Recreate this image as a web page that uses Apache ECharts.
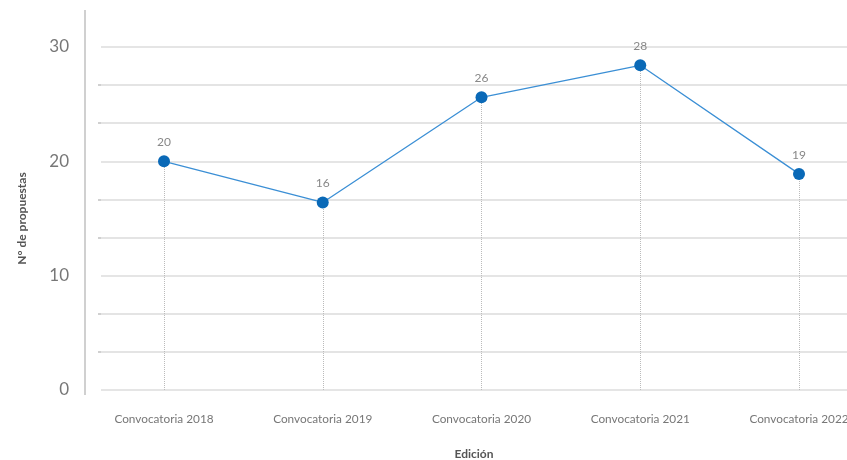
<!DOCTYPE html>
<html>
<head>
<meta charset="utf-8">
<script src="https://cdn.jsdelivr.net/npm/echarts@6/dist/echarts.min.js"></script>
<style>
html,body{margin:0;padding:0;background:#fff;overflow:hidden;}
#chart{width:847px;height:460px;}
</style>
</head>
<body>
<div id="chart"></div>
<script>
var categories = ['Convocatoria 2018', 'Convocatoria 2019', 'Convocatoria 2020', 'Convocatoria 2021', 'Convocatoria 2022'];
var propuestas = [20, 16.4, 25.6, 28.4, 18.9];
var yMin = 0, yMax = 30, yInterval = 10;
var yName = 'N° de propuestas';
var xName = 'Edición';

var FONT = 'Lato, "Open Sans", sans-serif';
var chart = echarts.init(document.getElementById('chart'), null, { width: 847, height: 460 });

var dropLines = propuestas.map(function (v, i) {
  return [{ coord: [i, yMin] }, { coord: [i, v] }];
});

var gridTop = 47, gridHeight = 343;

chart.setOption({
  animation: false,
  textStyle: { fontFamily: FONT },
  grid: [
    { left: 101, right: 0, top: gridTop, height: gridHeight, containLabel: false, outerBoundsMode: 'none' },
    { left: 164, right: 48, top: gridTop, height: gridHeight, containLabel: false, outerBoundsMode: 'none' }
  ],
  graphic: [
    { type: 'line', shape: { x1: 85, y1: 10, x2: 85, y2: 395 }, style: { stroke: '#d0d0d0', lineWidth: 2 }, silent: true }
  ],
  xAxis: [
    {
      gridIndex: 0, type: 'value', min: 0, max: 1,
      axisLine: { show: false }, axisTick: { show: false }, axisLabel: { show: false }, splitLine: { show: false },
      name: xName, nameLocation: 'middle', nameGap: 58,
      nameTextStyle: { fontSize: 12, fontWeight: 'bold', color: '#555', fontFamily: FONT }
    },
    {
      gridIndex: 1, type: 'category', data: categories, boundaryGap: false,
      axisLine: { show: false }, axisTick: { show: false }, splitLine: { show: false },
      axisLabel: { color: '#777', fontSize: 11.8, margin: 23, fontFamily: FONT }
    }
  ],
  yAxis: [
    {
      gridIndex: 0, type: 'value', min: yMin, max: yMax, interval: yInterval, offset: 16,
      axisLine: { show: false },
      axisTick: { show: false },
      minorTick: { show: true, splitNumber: 3, length: 3, lineStyle: { color: '#d0d0d0', width: 2 } },
      splitLine: { show: true, lineStyle: { color: '#dcdcdc', width: 1.5 } },
      minorSplitLine: { show: true, lineStyle: { color: '#dcdcdc', width: 1.5 } },
      axisLabel: { color: '#777', fontSize: 17, margin: 16, fontFamily: FONT },
      name: yName, nameLocation: 'middle', nameGap: 57, nameRotate: 90,
      nameTextStyle: { fontSize: 12, fontWeight: 'bold', color: '#555', fontFamily: FONT }
    },
    {
      gridIndex: 1, type: 'value', min: yMin, max: yMax, interval: yInterval,
      axisLine: { show: false }, axisTick: { show: false }, axisLabel: { show: false }, splitLine: { show: false }
    }
  ],
  series: [{
    type: 'line',
    xAxisIndex: 1, yAxisIndex: 1,
    data: propuestas,
    symbol: 'circle',
    symbolSize: 12,
    lineStyle: { color: '#3b8fd5', width: 1.3 },
    itemStyle: { color: '#0a69b7' },
    label: {
      show: true, position: 'top', distance: 7,
      color: '#888', fontSize: 12, fontFamily: FONT,
      formatter: function (p) { return Math.round(p.value); }
    },
    z: 3,
    markLine: {
      silent: true, symbol: 'none',
      label: { show: false },
      lineStyle: { color: '#bbb', type: 'dotted', width: 1 },
      data: dropLines,
      z: 1
    }
  }]
});
</script>
</body>
</html>
